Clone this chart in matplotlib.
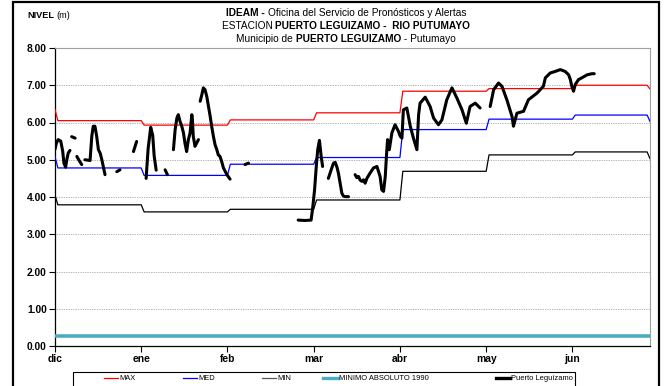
import numpy as np
import matplotlib
matplotlib.use("Agg")
import matplotlib.pyplot as plt
from matplotlib.lines import Line2D
from matplotlib.patches import Rectangle

plt.rcParams['font.family'] = ['Liberation Sans', 'DejaVu Sans']

# ---- data -------------------------------------------------------------
meses = ['dic', 'ene', 'feb', 'mar', 'abr', 'may', 'jun']
dias_por_mes = 30
dias_eje = 207

# monthly reference levels (m)
nivel_max = [6.05, 5.93, 6.07, 6.26, 6.84, 6.91, 7.00]
nivel_med = [4.78, 4.58, 4.88, 5.06, 5.81, 6.09, 6.20]
nivel_min = [3.79, 3.60, 3.67, 3.92, 4.69, 5.13, 5.21]
# values for the neighbouring months at both ends of the period
inicio_ref = {'max': 6.35, 'med': 5.08, 'min': 4.05}
fin_ref = {'max': 6.90, 'med': 6.03, 'min': 5.03}
minimo_absoluto_1990 = 0.27

# observed levels, Puerto Leguizamo (day since 1 dic, m); None = no record
dias_obs = [0.0, 0.5, 1.1, 2.0, 2.7, 3.1, 3.7, 4.1, 4.6, 5.2, None,
            5.8, 7.0, None,
            7.6, 8.4, 9.3, None,
            10.4, 12.2, 12.8, 13.3, 13.9, 14.5, 15.1, 15.7, 16.3, 17.4, None,
            21.5, 22.6, None,
            27.3, 28.4, None,
            31.7, 32.4, 33.3, 34.0, 34.5, 35.2, None,
            38.3, 39.1, None,
            41.2, 41.8, 42.4, 42.9, 43.5, 44.1, 44.7, 45.2, 45.8, 46.4, 47.0,
            47.6, 47.8, 48.1, 48.7, 49.3, 49.9, None,
            50.5, 51.1, 51.6, 52.2, 52.8, 53.4, 54.0, 54.5, 55.1, 55.7, 56.3,
            56.8, 57.4, 58.0, 58.6, 59.8, 60.9, None,
            66.1, 67.3, None,
            84.6, 87.0, 89.1, 89.7, 90.3, 90.9, 91.4, 92.0, 92.6, 93.1, None,
            95.1, 96.3, 96.9, 97.5, 98.1, 98.6, 99.2, 99.8, 100.3, 100.9, 102.1, None,
            104.4, 105.0, 105.6, 106.2, 106.8, 107.3, 107.9, 108.5, 109.6, 110.8,
            112.0, 112.5, 113.1, 113.7, 114.3, 114.9, 115.3, 115.7, 116.3, 117.2,
            118.3, 119.5, 120.1, 120.7, 121.2, 122.4, 123.6, 124.7, 125.9, 126.5,
            127.0, 128.8, 130.5, 131.7, 133.4, 134.6, 136.3, 138.1, 139.8, 141.6,
            143.1, 144.4, 146.2, 147.9, None,
            151.4, 152.6, 154.3, 155.5, 157.2, 159.0, 159.5, 160.7, 163.0, 164.7,
            167.7, 169.9, 170.6, 172.3, 174.0, 175.8, 177.5, 178.7, 179.3, 179.8,
            180.4, 181.0, 182.1, 183.3, 185.1, 186.8, 187.6]
nivel_obs = [5.28, 5.45, 5.54, 5.50, 5.22, 4.91, 4.80, 5.00, 5.18, 5.25, None,
             5.62, 5.58, None,
             5.09, 4.98, 4.87, None,
             5.00, 4.98, 5.63, 5.90, 5.90, 5.63, 5.27, 5.18, 5.00, 4.60, None,
             4.68, 4.73, None,
             5.22, 5.49, None,
             4.50, 5.30, 5.87, 5.65, 5.10, 4.72, None,
             4.73, 4.60, None,
             5.27, 5.81, 6.12, 6.21, 6.03, 5.90, 5.72, 5.45, 5.22, 5.54, 5.72,
             6.21, 6.08, 5.63, 5.36, 5.45, 5.54, None,
             6.57, 6.75, 6.93, 6.88, 6.70, 6.43, 6.16, 5.90, 5.63, 5.40, 5.27,
             5.13, 5.09, 4.95, 4.78, 4.60, 4.48, None,
             4.87, 4.91, None,
             3.38, 3.37, 3.38, 3.74, 4.19, 4.82, 5.27, 5.52, 5.09, 4.82, None,
             4.50, 4.78, 4.91, 4.93, 4.80, 4.64, 4.37, 4.10, 4.03, 4.01, 4.01, None,
             4.60, 4.52, 4.55, 4.45, 4.42, 4.46, 4.37, 4.50, 4.64, 4.78,
             4.82, 4.70, 4.55, 4.19, 4.15, 4.55, 5.09, 5.54, 5.27, 5.72,
             5.94, 5.76, 5.63, 5.58, 6.34, 6.39, 5.90, 5.58, 5.27, 6.21,
             6.52, 6.68, 6.43, 6.12, 5.94, 6.07, 6.61, 6.93, 6.66, 6.34,
             5.98, 6.43, 6.52, 6.39, None,
             6.43, 6.88, 7.06, 6.97, 6.61, 6.16, 5.90, 6.25, 6.30, 6.61,
             6.79, 6.97, 7.20, 7.33, 7.37, 7.42, 7.37, 7.28, 7.15, 6.97,
             6.84, 7.02, 7.15, 7.20, 7.28, 7.31, 7.31]


def escalones(inicio, mensual, fin):
    """Daily step line: one value per month, one-day ramps between months."""
    xs, ys = [0], [inicio]
    for i, v in enumerate(mensual):
        xs += [i * dias_por_mes + 1, min((i + 1) * dias_por_mes, dias_eje - 1)]
        ys += [v, v]
    xs.append(dias_eje)
    ys.append(fin)
    return xs, ys


W, H, DPI = 665, 386, 100
fig = plt.figure(figsize=(W / DPI, H / DPI), dpi=DPI)
ax = fig.add_axes([55 / W, 1 - 346 / H, 595 / W, 298 / H])

x_max, y_max = escalones(inicio_ref['max'], nivel_max, fin_ref['max'])
x_med, y_med = escalones(inicio_ref['med'], nivel_med, fin_ref['med'])
x_min, y_min = escalones(inicio_ref['min'], nivel_min, fin_ref['min'])

col_max, col_med, col_min = '#FF0000', '#0000FF', '#000000'
col_abs, col_obs = '#4BACC6', '#000000'

ax.plot(x_max, y_max, color=col_max, lw=0.9, zorder=3)
ax.plot(x_med, y_med, color=col_med, lw=0.9, zorder=3)
ax.plot(x_min, y_min, color=col_min, lw=0.9, zorder=3)
ax.plot([0, dias_eje], [minimo_absoluto_1990] * 2, color=col_abs, lw=2.6,
        zorder=3, solid_capstyle='butt')

xo = np.array([np.nan if d is None else d for d in dias_obs], dtype=float)
yo = np.array([np.nan if v is None else v for v in nivel_obs], dtype=float)
ax.plot(xo, yo, color=col_obs, lw=2.2, zorder=4,
        solid_capstyle='round', solid_joinstyle='round')

ax.set_xlim(0, dias_eje)
ax.set_ylim(0, 8)
ax.set_yticks(np.arange(0, 9, 1))
ax.set_yticklabels([f'{v:.2f}' for v in range(9)], fontsize=7.4,
                   fontweight='bold')
ax.set_xticks([i * dias_por_mes for i in range(len(meses))])
ax.set_xticklabels(meses, fontsize=7.4, fontweight='bold')
ax.tick_params(axis='both', direction='out', length=4, width=0.8,
               color='black', pad=2)
ax.tick_params(axis='x', pad=1.5)
ax.yaxis.grid(True, linestyle=(0, (1, 1.5)), color='#707070', lw=0.5)
ax.set_axisbelow(True)
for s in ('left', 'bottom'):
    ax.spines[s].set_color('black')
    ax.spines[s].set_linewidth(0.9)
for s in ('top', 'right'):
    ax.spines[s].set_color('#A0A0A0')
    ax.spines[s].set_linewidth(0.8)

# ---- titles -----------------------------------------------------------
renderer = fig.canvas.get_renderer()


def linea_mixta(piezas, cx, y, size):
    textos = [fig.text(0, y, t, fontsize=size, fontweight=w, ha='left',
                       va='baseline', transform=None) for t, w in piezas]
    anchos = [t.get_window_extent(renderer).width for t in textos]
    x = cx - sum(anchos) / 2
    for t, a in zip(textos, anchos):
        t.set_position((x, y))
        x += a


linea_mixta([('IDEAM - ', 'bold'),
             ('Oficina del Servicio de Pronósticos y Alertas', 'normal')],
            346, H - 16, 7.3)
linea_mixta([('ESTACION ', 'normal'),
             ('PUERTO LEGUIZAMO -  RIO PUTUMAYO', 'bold')],
            346, H - 29, 7.3)
linea_mixta([('Municipio de ', 'normal'), ('PUERTO LEGUIZAMO', 'bold'),
             (' - Putumayo', 'normal')],
            346, H - 42, 7.3)

t1 = fig.text(27, H - 18, 'NIVEL', fontsize=6.6, fontweight='bold',
              transform=None, va='baseline')
w1 = t1.get_window_extent(renderer).width
fig.text(27 + w1 + 2, H - 18, '(m)', fontsize=6.6, transform=None,
         va='baseline')

# ---- legend -----------------------------------------------------------
fig.add_artist(Rectangle((73, -5), 502, 19, transform=None, fill=False,
                         edgecolor='black', lw=0.8))
items = [(104, 118, col_max, 0.9, 'MAX'),
         (183, 197, col_med, 0.9, 'MED'),
         (262, 276, '#555555', 0.9, 'MIN'),
         (323, 338, col_abs, 2.4, 'MINIMO ABSOLUTO 1990'),
         (496, 510, col_obs, 2.4, 'Puerto Leguízamo')]
for x0, x1, c, lw, txt in items:
    fig.add_artist(Line2D([x0, x1], [8, 8], transform=None, color=c, lw=lw))
    fig.text(x1 + 1, 8, txt, fontsize=5.4, transform=None, va='center')

# ---- outer frame ------------------------------------------------------
fig.add_artist(Rectangle((13, -5), 646, H + 3, transform=None, fill=False,
                         edgecolor='black', lw=1.6))

fig.savefig('out.png', dpi=DPI)
